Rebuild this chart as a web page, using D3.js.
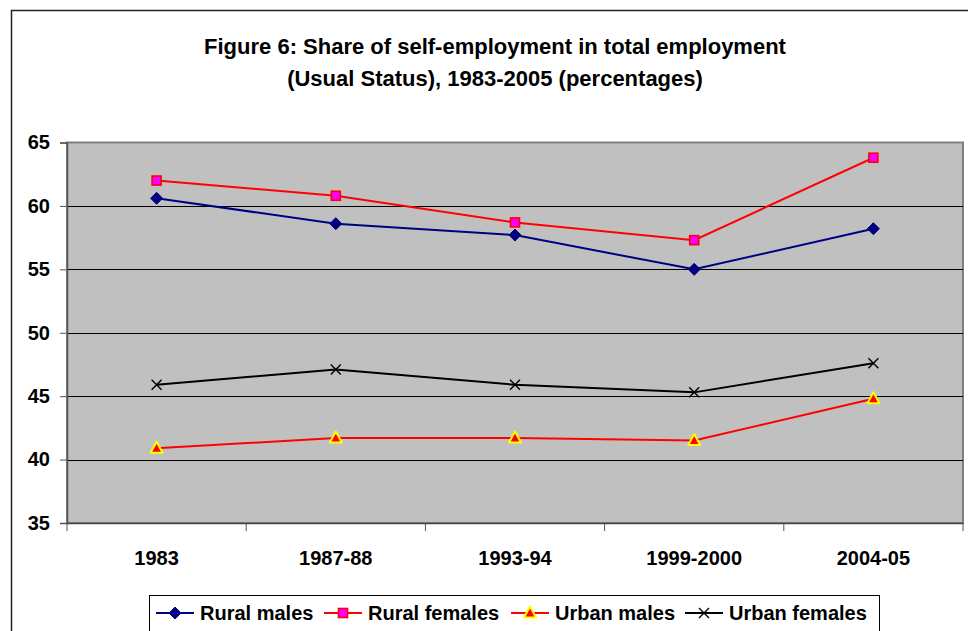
<!DOCTYPE html>
<html>
<head>
<meta charset="utf-8">
<script src="https://cdn.jsdelivr.net/npm/d3@7/dist/d3.min.js"></script>
<style>
  html, body { margin: 0; padding: 0; background: #fff; }
  svg { display: block; font-family: "Liberation Sans", Arial, sans-serif; }
</style>
</head>
<body>
<svg id="chart" width="968" height="631"></svg>
<script>
// Survey rounds on the x axis
const categories = ["1983", "1987-88", "1993-94", "1999-2000", "2004-05"];

// Share of self-employment (%) by group
const ruralMales   = [60.6, 58.6, 57.7, 55.0, 58.2];
const ruralFemales = [62.0, 60.8, 58.7, 57.3, 63.8];
const urbanMales   = [40.9, 41.7, 41.7, 41.5, 44.8];
const urbanFemales = [45.9, 47.1, 45.9, 45.3, 47.6];

const yTicks = [35, 40, 45, 50, 55, 60, 65];

const titleLines = [
  "Figure 6: Share of self-employment in total employment",
  "(Usual Status), 1983-2005 (percentages)"
];

const series = [
  { name: "Rural males",   values: ruralMales,   line: "#000080", marker: "diamond" },
  { name: "Rural females", values: ruralFemales, line: "#FF0000", marker: "square" },
  { name: "Urban males",   values: urbanMales,   line: "#FF0000", marker: "triangle" },
  { name: "Urban females", values: urbanFemales, line: "#000000", marker: "cross" }
];

const svg = d3.select("#chart");
const plot = { left: 67, top: 142.5, right: 963, bottom: 523 };

// Outer frame (top and left edges visible)
svg.append("path")
  .attr("d", "M11.5,631 V10.5 H968")
  .attr("fill", "none").attr("stroke", "#222").attr("stroke-width", 1.5);

// Title
svg.append("g").selectAll("text").data(titleLines).join("text")
  .attr("x", 495).attr("y", (d, i) => 54 + i * 32)
  .attr("text-anchor", "middle")
  .attr("font-size", 22).attr("font-weight", "bold").attr("fill", "#000")
  .text(d => d);

const x = d3.scaleBand().domain(categories).range([plot.left, plot.right]);
const y = d3.scaleLinear().domain([35, 65]).range([plot.bottom, plot.top]);

// Plot area
svg.append("rect")
  .attr("x", plot.left).attr("y", plot.top)
  .attr("width", plot.right - plot.left).attr("height", plot.bottom - plot.top)
  .attr("fill", "#C0C0C0").attr("stroke", "#808080").attr("stroke-width", 2);

// Horizontal gridlines
svg.append("g").selectAll("line").data(yTicks.filter(t => t > 35 && t < 65)).join("line")
  .attr("x1", plot.left).attr("x2", plot.right)
  .attr("y1", d => Math.round(y(d)) + 0.5).attr("y2", d => Math.round(y(d)) + 0.5)
  .attr("stroke", "#000").attr("stroke-width", 1.2);

// Y axis
const yAxis = svg.append("g")
  .attr("transform", `translate(${plot.left},0)`)
  .call(d3.axisLeft(y).tickValues(yTicks).tickSize(7).tickPadding(10).tickFormat(d3.format("d")));
yAxis.select(".domain").attr("stroke", "#555").attr("stroke-width", 1.5);
yAxis.selectAll(".tick line").attr("stroke", "#555");
yAxis.selectAll(".tick text")
  .attr("font-size", 20).attr("font-weight", "bold").attr("fill", "#000")
  .attr("font-family", "Liberation Sans, Arial, sans-serif");

// X axis: labels under categories, ticks on category boundaries
const xAxis = svg.append("g")
  .attr("transform", `translate(0,${plot.bottom})`)
  .call(d3.axisBottom(x).tickSize(0).tickPadding(28));
xAxis.select(".domain").attr("stroke", "#444").attr("stroke-width", 1.5);
xAxis.selectAll(".tick text")
  .attr("font-size", 20).attr("font-weight", "bold").attr("fill", "#000")
  .attr("font-family", "Liberation Sans, Arial, sans-serif");
const bounds = categories.map(c => x(c)).concat([x(categories[categories.length - 1]) + x.bandwidth()]);
svg.append("g").selectAll("line").data(bounds).join("line")
  .attr("x1", d => d).attr("x2", d => d)
  .attr("y1", plot.bottom).attr("y2", plot.bottom + 8)
  .attr("stroke", "#555").attr("stroke-width", 1);

// Marker drawing helper
function drawMarker(g, type, cx, cy) {
  if (type === "diamond") {
    g.append("path").attr("d", `M${cx},${cy - 6} L${cx + 6},${cy} L${cx},${cy + 6} L${cx - 6},${cy} Z`)
      .attr("fill", "#000080").attr("stroke", "#000080").attr("stroke-width", 1);
  } else if (type === "square") {
    g.append("rect").attr("x", cx - 4.5).attr("y", cy - 4.5).attr("width", 9).attr("height", 9)
      .attr("fill", "#FF00FF").attr("stroke", "#FF0000").attr("stroke-width", 1.6);
  } else if (type === "triangle") {
    g.append("path").attr("d", `M${cx},${cy - 6.5} L${cx + 6},${cy + 4.5} L${cx - 6},${cy + 4.5} Z`)
      .attr("fill", "#FF0000").attr("stroke", "#FFFF00").attr("stroke-width", 2).attr("stroke-linejoin", "round");
  } else if (type === "cross") {
    g.append("path").attr("d", `M${cx - 5},${cy - 5} L${cx + 5},${cy + 5} M${cx + 5},${cy - 5} L${cx - 5},${cy + 5}`)
      .attr("stroke", "#000").attr("stroke-width", 1.4).attr("fill", "none");
  }
}

const cx = c => x(c) + x.bandwidth() / 2;
const lineGen = d3.line().x(d => cx(d.c)).y(d => y(d.v));

series.forEach(s => {
  const pts = categories.map((c, i) => ({ c, v: s.values[i] }));
  const g = svg.append("g");
  g.append("path").datum(pts).attr("d", lineGen)
    .attr("fill", "none").attr("stroke", s.line).attr("stroke-width", 2);
  pts.forEach(p => drawMarker(g, s.marker, cx(p.c), y(p.v)));
});

// Legend
const legend = svg.append("g");
legend.append("rect")
  .attr("x", 149.5).attr("y", 595.5).attr("width", 730).attr("height", 50)
  .attr("fill", "#fff").attr("stroke", "#000").attr("stroke-width", 1);
const legendX = [156, 324, 511, 685];
series.forEach((s, i) => {
  const lx = legendX[i], ly = 613;
  legend.append("line").attr("x1", lx).attr("x2", lx + 38).attr("y1", ly).attr("y2", ly)
    .attr("stroke", s.line).attr("stroke-width", 2);
  drawMarker(legend, s.marker, lx + 19, ly);
  legend.append("text").attr("x", lx + 44).attr("y", ly + 7)
    .attr("font-size", 20).attr("font-weight", "bold").attr("fill", "#000")
    .text(s.name);
});
</script>
</body>
</html>
